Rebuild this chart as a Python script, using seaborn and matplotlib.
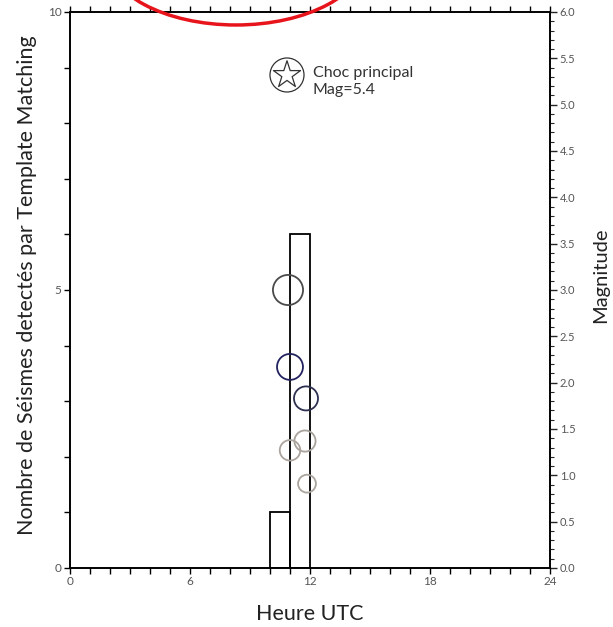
import matplotlib
matplotlib.use("Agg")
import matplotlib.pyplot as plt
import numpy as np
import pandas as pd
import seaborn as sns
from matplotlib.patches import Ellipse
from matplotlib.ticker import MultipleLocator, FormatStrFormatter

# Hourly counts of template-matching detections
hour_bins = [10, 11]
hour_counts = [1, 6]

# Detected events: hour (UTC), magnitude, edge colour
event_hours = [10.9, 11.0, 11.8, 11.75, 11.0, 11.85]
event_mags = [3.0, 2.17, 1.83, 1.37, 1.27, 0.91]
event_colors = ["#4a4a4a", "#22225e", "#2e3050", "#a8a29c", "#aca49e", "#aaa49e"]

# Main shock
main_hour = 10.85
main_mag = 5.32
main_label = "Choc principal\nMag=5.4"

sns.set_style("white")
plt.rcParams["font.family"] = ["Lato", "DejaVu Sans"]

fig = plt.figure(figsize=(6.13, 6.27), dpi=100)
ax = fig.add_axes([0.1142, 0.0941, 0.7830, 0.8868])

# Histogram of detections per hour
counts = pd.DataFrame({"hour": hour_bins, "count": hour_counts})
sns.histplot(
    data=counts,
    x="hour",
    weights="count",
    binwidth=1,
    binrange=(10, 12),
    fill=False,
    color="black",
    linewidth=1.3,
    ax=ax,
)
ax.set_xlim(0, 24)
ax.set_ylim(0, 10)
ax.xaxis.set_major_locator(MultipleLocator(6))
ax.xaxis.set_minor_locator(MultipleLocator(1))
ax.yaxis.set_major_locator(MultipleLocator(5))
ax.yaxis.set_minor_locator(MultipleLocator(1))
ax.tick_params(axis="both", which="both", direction="out", length=4, width=1,
               color="black", labelsize=8.5, labelcolor="#555555", pad=2)
ax.tick_params(axis="x", which="both", top=True, bottom=True)
ax.tick_params(axis="y", which="both", left=True, right=False)
ax.set_xlabel("Heure UTC", fontsize=15.5, color="#222222", labelpad=12)
ax.set_ylabel("Nombre de Séismes detectés par Template Matching",
              fontsize=15.5, color="#222222")
ax.yaxis.set_label_coords(-0.069, 0.509)
for sp in ax.spines.values():
    sp.set_visible(True)
    sp.set_color("black")
    sp.set_linewidth(1.2)

# Magnitude axis
ax2 = ax.twinx()
events = pd.DataFrame({"hour": event_hours, "mag": event_mags})
sns.scatterplot(
    data=events,
    x="hour",
    y="mag",
    size="mag",
    sizes=(165, 470),
    facecolors="none",
    edgecolor=event_colors,
    linewidth=1.3,
    legend=False,
    ax=ax2,
)
# Main shock symbol
sns.scatterplot(x=[main_hour], y=[main_mag], s=600, marker="o",
                facecolors="none", edgecolor="#333333", linewidth=0.9,
                legend=False, ax=ax2)
sns.scatterplot(x=[main_hour], y=[main_mag], s=420, marker="*",
                facecolors="none", edgecolor="#333333", linewidth=0.9,
                legend=False, ax=ax2)
ax2.text(main_hour + 1.3, 5.25, main_label, fontsize=11.5,
         color="#333333", va="center", ha="left", linespacing=1.2)

ax2.set_xlim(0, 24)
ax2.set_ylim(0, 6)
ax2.yaxis.set_major_locator(MultipleLocator(0.5))
ax2.yaxis.set_minor_locator(MultipleLocator(0.1))
ax2.yaxis.set_major_formatter(FormatStrFormatter("%.1f"))
ax2.tick_params(axis="y", which="major", direction="out", length=5, width=1,
                labelsize=8, labelcolor="#555555", pad=2, right=True, left=False)
ax2.tick_params(axis="y", which="minor", direction="out", length=3, width=0.8,
                right=True, left=False)
ax2.set_xlabel("")
ax2.set_ylabel("Magnitude", fontsize=14.5, color="#222222")
ax2.yaxis.set_label_coords(1.0875, 0.527)
for sp in ax2.spines.values():
    sp.set_color("black")
    sp.set_linewidth(1.2)

# Red highlight ellipse at the top
fig.add_artist(Ellipse((0.385, 1.0718), 0.424, 0.2233, transform=fig.transFigure,
                       fill=False, edgecolor="#e8141c", linewidth=2.5, clip_on=False))

fig.savefig("out.png", dpi=100)
